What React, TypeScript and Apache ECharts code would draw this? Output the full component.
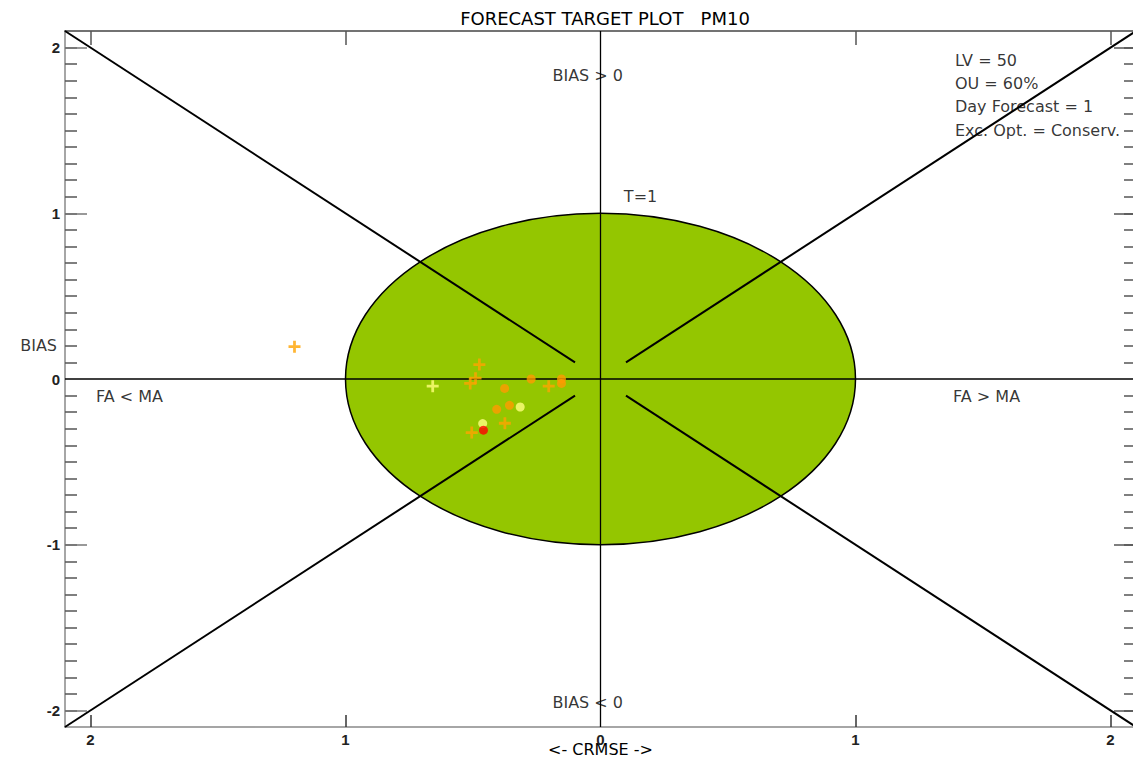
import React, { useEffect, useRef } from "react";
import * as echarts from "echarts";

const TITLE = "FORECAST TARGET PLOT   PM10";
const X_NAME = "<- CRMSE ->";
const Y_NAME = "BIAS";

// axis extents and tick positions
const AXIS_MIN = -2.1;
const AXIS_MAX = 2.1;
const X_TICKS = [-2, -1, 1, 2];
const X_LABELS = [-2, -1, 0, 1, 2];
const Y_MAJOR = [-2, -1, 1, 2];
const Y_LABELS = [-2, -1, 0, 1, 2];
const Y_MINOR = [
  -2, -1.9, -1.8, -1.7, -1.6, -1.5, -1.4, -1.3, -1.2, -1.1, -1, -0.9, -0.8, -0.7, -0.6, -0.5, -0.4,
  -0.3, -0.2, -0.1, 0.1, 0.2, 0.3, 0.4, 0.5, 0.6, 0.7, 0.8, 0.9, 1, 1.1, 1.2, 1.3, 1.4, 1.5, 1.6,
  1.7, 1.8, 1.9, 2,
];

// target circle radius and diagonal segment limits
const TARGET_RADIUS = 1;
const DIAG_INNER = 0.1;
const DIAG_OUTER = 2.1;

// info box
const INFO_LINES = ["LV = 50", "OU = 60%", "Day Forecast = 1", "Exc. Opt. = Conserv."];

// stations: [CRMSE (signed), BIAS]
const plusOrange: [number, number][] = [
  [-1.2, 0.195],
  [-0.475, 0.087],
  [-0.49, 0.005],
  [-0.511, -0.027],
  [-0.203, -0.043],
  [-0.375, -0.267],
  [-0.505, -0.323],
];
const plusYellow: [number, number][] = [[-0.658, -0.043]];
const dotOrange: [number, number][] = [
  [-0.272, 0.0],
  [-0.153, 0.0],
  [-0.153, -0.027],
  [-0.376, -0.057],
  [-0.407, -0.183],
  [-0.357, -0.159],
];
const dotYellow: [number, number][] = [
  [-0.315, -0.169],
  [-0.462, -0.269],
];
const dotRed: [number, number][] = [[-0.459, -0.309]];

const PLUS = "path://M5,0H8V5H13V8H8V13H5V8H0V5H5Z";
const TEXT_FONT = "DejaVu Sans";
const TICK_FONT = "Liberation Sans";

export default function App() {
  const ref = useRef<HTMLDivElement>(null);

  useEffect(() => {
    if (!ref.current) return;
    const chart = echarts.init(ref.current, undefined, { renderer: "svg" });

    const textStyle = { fontFamily: TEXT_FONT, fontSize: 16, color: "#000" };

    const annotations = [
      { value: [-0.05, 1.83], label: { formatter: "BIAS > 0", align: "center" } },
      { value: [-0.05, -1.955], label: { formatter: "BIAS < 0", align: "center" } },
      { value: [-1.847, -0.103], label: { formatter: "FA < MA", align: "center" } },
      { value: [1.514, -0.103], label: { formatter: "FA > MA", align: "center" } },
      { value: [0.157, 1.1], label: { formatter: "T=1", align: "center" } },
      ...INFO_LINES.map((t, i) => ({
        value: [1.39, 1.925 - i * 0.141],
        label: { formatter: t, align: "left" },
      })),
    ];

    const segment = (name: string, pts: number[][], width = 2) => ({
      name,
      type: "line",
      data: pts,
      symbol: "none",
      silent: true,
      lineStyle: { color: "#000", width },
      z: 3,
    });

    const tickAxisBase = {
      type: "value",
      min: AXIS_MIN,
      max: AXIS_MAX,
      splitLine: { show: false },
    };

    chart.setOption({
      animation: false,
      title: {
        text: TITLE,
        left: 600,
        top: 4,
        textAlign: "center",
        textStyle: { fontFamily: TEXT_FONT, fontSize: 18, fontWeight: "normal", color: "#000" },
      },
      grid: {
        left: 65,
        top: 31,
        width: 1071,
        height: 696,
        show: false,
        outerBoundsMode: "none",
        containLabel: false,
      },
      xAxis: [
        {
          ...tickAxisBase,
          position: "bottom",
          name: X_NAME,
          nameLocation: "middle",
          nameGap: 14,
          nameMoveOverlap: false,
          nameTextStyle: { ...textStyle, verticalAlign: "top" },
          axisLine: { show: true, onZero: false, lineStyle: { color: "#888", width: 1.5 } },
          axisTick: {
            show: true,
            inside: true,
            length: 12,
            customValues: X_TICKS,
            lineStyle: { color: "#333", width: 1.5 },
          },
          axisLabel: {
            customValues: X_LABELS,
            formatter: (v: number) => String(Math.abs(v)),
            margin: 5,
            fontFamily: TICK_FONT,
            fontSize: 15,
            fontWeight: "bold",
            color: "#222",
          },
        },
        {
          ...tickAxisBase,
          position: "top",
          axisLine: { show: true, onZero: false, lineStyle: { color: "#444", width: 1.5 } },
          axisTick: {
            show: true,
            inside: true,
            length: 14,
            customValues: X_TICKS,
            lineStyle: { color: "#555", width: 1.5 },
          },
          axisLabel: { show: false },
        },
      ],
      yAxis: [
        {
          ...tickAxisBase,
          position: "left",
          axisLine: { show: true, onZero: false, lineStyle: { color: "#888", width: 1.5 } },
          axisTick: {
            show: true,
            inside: true,
            length: 12,
            customValues: Y_MINOR,
            lineStyle: { color: "#555", width: 1.5 },
          },
          axisLabel: { show: false },
        },
        {
          ...tickAxisBase,
          position: "left",
          axisLine: { show: false, onZero: false },
          axisTick: {
            show: true,
            inside: true,
            length: 22,
            customValues: Y_MAJOR,
            lineStyle: { color: "#777", width: 1.5 },
          },
          axisLabel: {
            customValues: Y_LABELS,
            margin: 5,
            fontFamily: TICK_FONT,
            fontSize: 15,
            fontWeight: "bold",
            color: "#222",
          },
        },
        {
          ...tickAxisBase,
          position: "right",
          axisLine: { show: true, onZero: false, lineStyle: { color: "#888", width: 1.5 } },
          axisTick: {
            show: true,
            inside: true,
            length: 12,
            customValues: Y_MINOR,
            lineStyle: { color: "#555", width: 1.5 },
          },
          axisLabel: { show: false },
        },
        {
          ...tickAxisBase,
          position: "right",
          axisLine: { show: false, onZero: false },
          axisTick: {
            show: true,
            inside: true,
            length: 22,
            customValues: Y_MAJOR,
            lineStyle: { color: "#555", width: 1.5 },
          },
          axisLabel: { show: false },
        },
      ],
      series: [
        {
          name: "target",
          type: "custom",
          silent: true,
          data: [[0, 0, TARGET_RADIUS]],
          z: 1,
          renderItem: (params: any, api: any) => {
            const r = api.value(2);
            const c = api.coord([api.value(0), api.value(1)]);
            const e = api.coord([api.value(0) + r, api.value(1) + r]);
            return {
              type: "ellipse",
              shape: { cx: c[0], cy: c[1], rx: e[0] - c[0], ry: c[1] - e[1] },
              style: { fill: "#94C600", stroke: "#000", lineWidth: 1.5 },
            };
          },
        },
        segment("zeroX", [[AXIS_MIN, 0], [AXIS_MAX, 0]], 1.3),
        segment("zeroY", [[0, AXIS_MIN], [0, AXIS_MAX]], 1.3),
        segment("diagUL", [[-DIAG_OUTER, DIAG_OUTER], [-DIAG_INNER, DIAG_INNER]]),
        segment("diagUR", [[DIAG_INNER, DIAG_INNER], [DIAG_OUTER, DIAG_OUTER]]),
        segment("diagLL", [[-DIAG_OUTER, -DIAG_OUTER], [-DIAG_INNER, -DIAG_INNER]]),
        segment("diagLR", [[DIAG_INNER, -DIAG_INNER], [DIAG_OUTER, -DIAG_OUTER]]),
        {
          name: "annotations",
          type: "scatter",
          symbolSize: 0,
          silent: true,
          z: 4,
          data: annotations,
          label: { show: true, position: "inside", ...textStyle },
        },
        {
          name: "yName",
          type: "scatter",
          symbolSize: 0,
          silent: true,
          z: 4,
          data: [[AXIS_MIN, 0.2]],
          label: {
            show: true,
            position: "left",
            distance: 8,
            formatter: Y_NAME,
            ...textStyle,
          },
        },
        {
          name: "plusOrange",
          type: "scatter",
          symbol: PLUS,
          symbolSize: 12,
          data: plusOrange,
          itemStyle: { color: "#FFA300" },
          z: 5,
        },
        {
          name: "plusYellow",
          type: "scatter",
          symbol: PLUS,
          symbolSize: 12,
          data: plusYellow,
          itemStyle: { color: "#FFFF7A" },
          z: 5,
        },
        {
          name: "dotOrange",
          type: "scatter",
          symbol: "circle",
          symbolSize: 9,
          data: dotOrange,
          itemStyle: { color: "#FF9A00" },
          z: 5,
        },
        {
          name: "dotYellow",
          type: "scatter",
          symbol: "circle",
          symbolSize: 9,
          data: dotYellow,
          itemStyle: { color: "#FFFF80" },
          z: 5,
        },
        {
          name: "dotRed",
          type: "scatter",
          symbol: "circle",
          symbolSize: 9,
          data: dotRed,
          itemStyle: { color: "#FF0000" },
          z: 5,
        },
      ],
    });

    return () => chart.dispose();
  }, []);

  return (
    <div
      ref={ref}
      style={{ position: "absolute", left: 0, top: 0, width: 1133, height: 759, background: "#fff" }}
    />
  );
}
